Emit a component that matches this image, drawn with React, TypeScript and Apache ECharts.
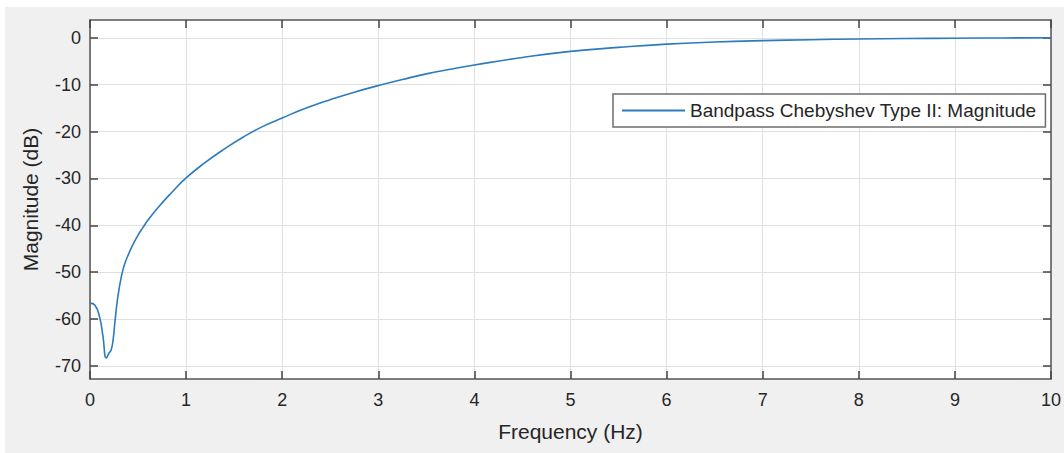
import React, { useEffect, useRef } from "react";
import * as echarts from "echarts";

// Frequency response of a bandpass Chebyshev Type II filter (magnitude in dB)
const frequencyHz = [
  0, 0.05, 0.1, 0.135, 0.17, 0.2, 0.22, 0.24, 0.26, 0.29, 0.33, 0.36, 0.4,
  0.45, 0.5, 0.55, 0.6, 0.7, 0.85, 1.0, 1.2, 1.4, 1.6, 1.8, 2.0, 2.25, 2.5,
  2.75, 3.0, 3.25, 3.5, 3.75, 4.0, 4.5, 5.0, 5.5, 6.0, 6.5, 7.0, 7.5, 8.0, 8.5,
  9.0, 9.5, 10,
];
const magnitudeDb = [
  -56.6, -57.0, -59.6, -63.7, -68.3, -67.2, -66.6, -64.5, -60.5, -55.2, -50.6,
  -48.3, -46.2, -44.0, -42.1, -40.5, -39.0, -36.4, -33.0, -29.9, -26.6, -23.7,
  -21.1, -18.9, -17.1, -15.0, -13.2, -11.6, -10.2, -8.9, -7.7, -6.7, -5.8,
  -4.2, -2.9, -2.05, -1.35, -0.9, -0.6, -0.4, -0.25, -0.15, -0.08, -0.03, 0,
];
const yTicks = [-70, -60, -50, -40, -30, -20, -10, 0];

const seriesName = "Bandpass Chebyshev Type II: Magnitude";
const X_MIN = 0;
const X_MAX = 10;
const Y_MIN = -72.8;
const Y_MAX = 3.8;

const FONT = "'Liberation Sans', Arial, Helvetica, sans-serif";
const TEXT = "#262626";
const AXIS = "#555555";
const TICK = "#444444";
const GRID = "#e0e0e0";
const LINE = "#2c7bbd";

export default function App() {
  const ref = useRef<HTMLDivElement>(null);

  useEffect(() => {
    if (!ref.current) return;
    const chart = echarts.init(ref.current, undefined, { renderer: "svg" });

    const points = frequencyHz.map((f, i) => [f, magnitudeDb[i]]);

    // bottom axis carries labels; top axis only closes the box with inward ticks
    const sideX = (pos: "bottom" | "top", main: boolean) => ({
      type: "value",
      position: pos,
      min: X_MIN,
      max: X_MAX,
      interval: 1,
      name: main ? "Frequency (Hz)" : "",
      nameLocation: "middle",
      nameGap: 42,
      nameTextStyle: { color: TEXT, fontSize: 21, fontFamily: FONT },
      axisLine: { show: true, onZero: false, lineStyle: { color: AXIS, width: 1.5 } },
      axisTick: { show: true, inside: true, length: 8, lineStyle: { color: TICK, width: 1.5 } },
      axisLabel: {
        show: main,
        color: TEXT,
        fontSize: 18,
        fontFamily: FONT,
        margin: 12,
      },
      splitLine: { show: main, lineStyle: { color: GRID, width: 1 } },
    });

    // left axis carries labels; right axis only closes the box with inward ticks
    const sideY = (pos: "left" | "right", main: boolean) => ({
      type: "value",
      position: pos,
      min: Y_MIN,
      max: Y_MAX,
      name: main ? "Magnitude (dB)" : "",
      nameLocation: "middle",
      nameGap: 49,
      nameTextStyle: { color: TEXT, fontSize: 21, fontFamily: FONT },
      axisLine: { show: true, onZero: false, lineStyle: { color: AXIS, width: 1.5 } },
      axisTick: {
        show: true,
        inside: true,
        length: 8,
        customValues: yTicks,
        lineStyle: { color: TICK, width: 1.5 },
      },
      axisLabel: {
        show: main,
        customValues: yTicks,
        color: TEXT,
        fontSize: 18,
        fontFamily: FONT,
        margin: 9,
      },
      splitLine: { show: main, lineStyle: { color: GRID, width: 1 } },
    });

    chart.setOption({
      animation: false,
      backgroundColor: "#ffffff",
      textStyle: { fontFamily: FONT },
      graphic: [
        {
          type: "rect",
          z: -10,
          silent: true,
          shape: { x: 5, y: 7, width: 1059, height: 446 },
          style: { fill: "#f0f0f0" },
        },
      ],
      grid: {
        left: 90,
        right: 10,
        top: 20,
        bottom: 74,
        show: true,
        backgroundColor: "#ffffff",
        borderWidth: 0,
      },
      legend: {
        left: 613,
        top: 94,
        padding: [7, 9, 7, 9],
        itemWidth: 63,
        itemHeight: 2,
        icon: "rect",
        backgroundColor: "#ffffff",
        borderColor: "#6e6e6e",
        borderWidth: 1.5,
        textStyle: { color: TEXT, fontSize: 19, fontFamily: FONT },
        data: [{ name: seriesName, icon: "rect" }],
      },
      xAxis: [sideX("bottom", true), sideX("top", false)],
      yAxis: [sideY("left", true), sideY("right", false)],
      series: [
        {
          name: seriesName,
          type: "line",
          xAxisIndex: 0,
          yAxisIndex: 0,
          data: points,
          showSymbol: false,
          symbol: "none",
          smooth: true,
          lineStyle: { color: LINE, width: 1.6 },
          itemStyle: { color: LINE },
          clip: true,
        },
      ],
    });

    return () => chart.dispose();
  }, []);

  return (
    <div
      ref={ref}
      style={{ position: "absolute", left: 0, top: 0, width: 1064, height: 453 }}
    />
  );
}
